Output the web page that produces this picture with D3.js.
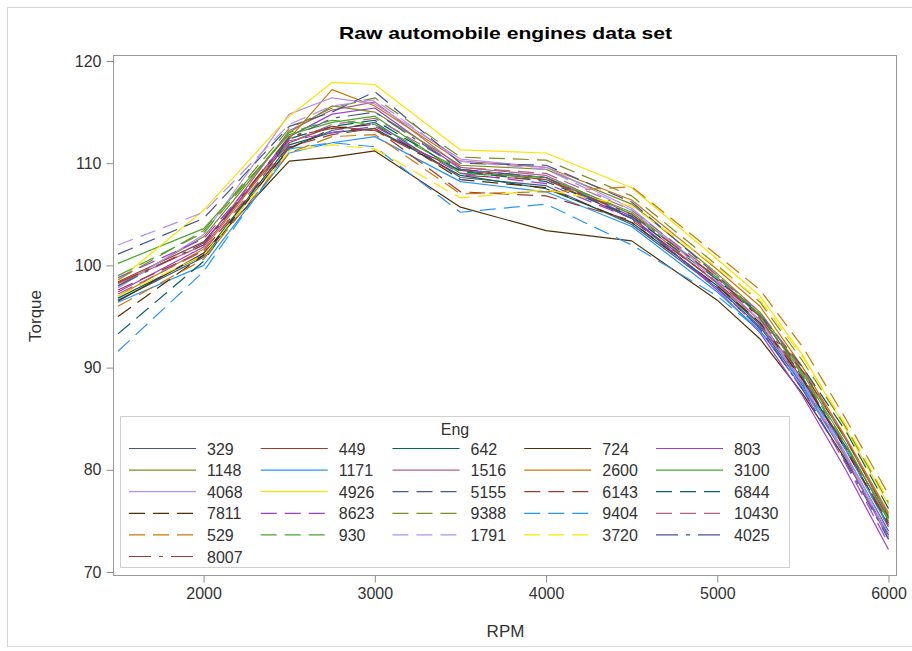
<!DOCTYPE html>
<html>
<head>
<meta charset="utf-8">
<script src="https://cdn.jsdelivr.net/npm/d3@7"></script>
<style>
  html, body { margin: 0; padding: 0; background: #fff; }
  svg { display: block; }
  text { font-family: "Liberation Sans", Arial, sans-serif; fill: #333; }
</style>
</head>
<body>
<svg id="chart" width="912" height="651"></svg>
<script>
// Engine speed at which torque was recorded
const rpm = [1500, 2000, 2500, 2750, 3000, 3500, 4000, 4500, 5000, 5250, 5500, 5750, 6000];

// Engine identifiers, in legend order
const engines = ["329", "449", "642", "724", "803", "1148", "1171", "1516", "2600", "3100",
  "4068", "4926", "5155", "6143", "6844", "7811", "8623", "9388", "9404", "10430",
  "529", "930", "1791", "3720", "4025", "8007"];

// Torque readings for each engine, one value per rpm step
const t329   = [96.6, 100.8, 111.5, 113.2, 114.0, 108.6, 107.8, 104.0, 97.8, 94.0, 88.2, 81.5, 74.0];
const t449   = [98.4, 102.3, 112.0, 113.6, 113.2, 109.3, 108.4, 104.6, 98.3, 94.6, 88.8, 82.0, 74.6];
const t642   = [96.8, 101.0, 111.8, 113.0, 113.4, 108.8, 107.5, 104.2, 98.0, 94.2, 88.6, 82.3, 75.3];
const t724   = [96.5, 101.2, 110.2, 110.6, 111.2, 105.7, 103.4, 102.4, 96.6, 92.8, 87.4, 81.0, 73.6];
const t803   = [97.4, 101.8, 112.6, 114.8, 115.4, 109.4, 108.6, 104.8, 97.6, 93.4, 87.2, 80.0, 72.2];
const t1148  = [98.0, 102.8, 113.0, 115.6, 115.0, 109.8, 109.4, 106.0, 99.2, 95.4, 89.6, 83.0, 75.6];
const t1171  = [96.4, 100.0, 111.0, 112.0, 112.6, 108.2, 107.2, 103.8, 97.4, 93.6, 88.0, 81.3, 73.4];
const t1516  = [98.2, 102.0, 113.2, 115.2, 116.0, 109.6, 108.8, 105.0, 98.2, 94.3, 88.4, 81.2, 73.2];
const t2600  = [97.0, 101.6, 112.4, 117.2, 115.6, 110.2, 109.6, 106.4, 99.6, 96.0, 90.0, 83.2, 75.8];
const t3100  = [100.2, 103.6, 112.8, 114.0, 114.6, 109.0, 108.6, 105.2, 98.8, 95.0, 89.4, 82.6, 75.0];
const t4068  = [97.8, 103.0, 114.8, 116.4, 115.8, 110.4, 109.6, 105.6, 98.6, 94.6, 88.6, 81.6, 73.8];
const t4926  = [98.5, 105.4, 114.6, 117.9, 117.7, 111.3, 111.0, 107.6, 100.6, 97.0, 91.2, 84.0, 76.6];
const t5155  = [101.1, 104.6, 113.6, 115.0, 117.0, 110.0, 109.8, 106.2, 99.0, 95.2, 89.0, 82.0, 74.4];
const t6143  = [97.6, 101.4, 111.6, 112.8, 113.4, 107.2, 106.8, 104.4, 98.4, 95.0, 89.6, 83.0, 75.4];
const t6844  = [93.3, 100.4, 112.4, 113.6, 114.2, 109.2, 108.2, 104.8, 98.6, 95.2, 90.0, 83.8, 76.2];
const t7811  = [95.0, 101.0, 111.4, 113.4, 113.8, 108.4, 107.6, 104.2, 98.0, 94.4, 88.8, 82.0, 74.8];
const t8623  = [98.8, 102.6, 112.2, 113.0, 113.6, 109.0, 108.0, 104.6, 97.8, 93.8, 87.8, 80.6, 72.8];
const t9388  = [98.6, 103.4, 113.4, 115.4, 116.4, 110.6, 110.3, 106.8, 100.0, 96.4, 90.6, 84.2, 76.8];
const t9404  = [91.6, 99.4, 111.4, 112.0, 111.6, 105.2, 106.0, 102.0, 97.0, 93.6, 88.4, 82.0, 74.4];
const t10430 = [97.2, 101.4, 112.0, 113.8, 114.4, 109.6, 109.0, 105.4, 99.0, 95.4, 89.8, 83.0, 75.4];
const t529   = [96.0, 100.6, 111.0, 112.6, 112.8, 107.0, 107.2, 107.7, 101.0, 97.6, 92.0, 85.0, 77.6];
const t930   = [99.0, 103.2, 113.0, 114.2, 113.8, 109.4, 108.6, 105.0, 98.8, 95.2, 89.2, 82.4, 75.2];
const t1791  = [102.0, 105.2, 113.8, 115.6, 116.2, 110.2, 109.4, 105.4, 98.4, 94.6, 88.4, 81.4, 73.4];
const t3720  = [97.0, 101.0, 111.2, 111.8, 111.4, 106.6, 107.4, 105.8, 99.8, 96.6, 91.0, 84.4, 77.0];
const t4025  = [98.0, 102.2, 112.4, 114.4, 115.0, 109.4, 108.6, 104.6, 97.8, 93.8, 87.8, 80.8, 73.2];
const t8007  = [98.3, 102.0, 112.6, 113.4, 113.2, 108.8, 108.4, 105.0, 98.8, 94.8, 89.0, 82.2, 74.8];

const torque = [t329, t449, t642, t724, t803, t1148, t1171, t1516, t2600, t3100,
  t4068, t4926, t5155, t6143, t6844, t7811, t8623, t9388, t9404, t10430,
  t529, t930, t1791, t3720, t4025, t8007];

// Axis ticks
const xTicks = [2000, 3000, 4000, 5000, 6000];
const yTicks = [70, 80, 90, 100, 110, 120];

// Line colour cycle and line-pattern cycle (12 colours per pattern)
const palette = ["#445694", "#A23A2E", "#01665E", "#543005", "#9D3CDB", "#7F8E1F",
  "#2597FA", "#B26084", "#D17800", "#47A82A", "#B38EF3", "#F9E500"];
const patterns = [null, "16 8", "22 8 4 8"];

const svg = d3.select("#chart");

// Outer graph border
svg.append("rect")
  .attr("x", 7.5).attr("y", 7.5).attr("width", 920).attr("height", 639)
  .attr("fill", "none").attr("stroke", "#d6d6d6");

const frame = { left: 113.5, top: 55.5, right: 896.5, bottom: 575.5 };

const x = d3.scaleLinear().domain([1500, 6000]).range([118, 888.5]);
const y = d3.scaleLinear().domain([70, 120]).range([572, 61]);

// Title
svg.append("text")
  .attr("x", 505.5).attr("y", 39)
  .attr("text-anchor", "middle")
  .attr("textLength", 333).attr("lengthAdjust", "spacingAndGlyphs")
  .style("font-size", "17px").style("font-weight", "bold").style("fill", "#000")
  .text("Raw automobile engines data set");

// Clip for the data area
svg.append("clipPath").attr("id", "plotClip")
  .append("rect")
  .attr("x", frame.left).attr("y", frame.top)
  .attr("width", frame.right - frame.left).attr("height", frame.bottom - frame.top);

// Axes
const xAxis = d3.axisBottom(x).tickValues(xTicks).tickSize(7).tickPadding(5).tickFormat(d3.format("d"));
const yAxis = d3.axisLeft(y).tickValues(yTicks).tickSize(7).tickPadding(5).tickFormat(d3.format("d"));

const gx = svg.append("g").attr("transform", `translate(0,${frame.bottom})`).call(xAxis);
const gy = svg.append("g").attr("transform", `translate(${frame.left},0)`).call(yAxis);
[gx, gy].forEach(g => {
  g.select(".domain").remove();
  g.selectAll(".tick line").attr("stroke", "#8a8a8a");
  g.selectAll(".tick text")
    .style("font-size", "16px").style("fill", "#333")
    .style("font-family", "'Liberation Sans', Arial, sans-serif");
});

// Axis labels
svg.append("text")
  .attr("x", 505.5).attr("y", 637)
  .attr("text-anchor", "middle")
  .style("font-size", "17px")
  .text("RPM");
svg.append("text")
  .attr("transform", "translate(41,316) rotate(-90)")
  .attr("text-anchor", "middle")
  .style("font-size", "17px")
  .text("Torque");

// Engine curves
const line = d3.line()
  .x((d, i) => x(rpm[i]))
  .y(d => y(d));

const series = engines.map((name, k) => ({
  name,
  values: torque[k],
  color: palette[k % 12],
  dash: patterns[Math.floor(k / 12)]
}));

svg.append("g").attr("clip-path", "url(#plotClip)")
  .selectAll("path")
  .data(series)
  .join("path")
  .attr("d", d => line(d.values))
  .attr("fill", "none")
  .attr("stroke", d => d.color)
  .attr("stroke-width", 1.2)
  .attr("stroke-linejoin", "round")
  .attr("stroke-dasharray", d => d.dash);

// Plot frame
svg.append("rect")
  .attr("x", frame.left).attr("y", frame.top)
  .attr("width", frame.right - frame.left).attr("height", frame.bottom - frame.top)
  .attr("fill", "none").attr("stroke", "#9a9a9a");

// Legend
const legend = svg.append("g");
legend.append("rect")
  .attr("x", 120.5).attr("y", 416.5).attr("width", 669).attr("height", 151)
  .attr("fill", "#fff").attr("stroke", "#cfcfcf");
legend.append("text")
  .attr("x", 455).attr("y", 435)
  .attr("text-anchor", "middle")
  .style("font-size", "16px")
  .text("Eng");

const colX = d3.scaleLinear().domain([0, 4]).range([129, 656]);
const rowY = d3.scaleLinear().domain([0, 5]).range([448.5, 556.5]);

const items = legend.selectAll("g.item")
  .data(series)
  .join("g")
  .attr("class", "item")
  .attr("transform", (d, i) => `translate(${colX(i % 5)},${rowY(Math.floor(i / 5))})`);

items.append("line")
  .attr("x1", 0).attr("x2", 67).attr("y1", 0).attr("y2", 0)
  .attr("stroke", d => d.color)
  .attr("stroke-width", 1.2)
  .attr("stroke-dasharray", d => d.dash);

items.append("text")
  .attr("x", 78).attr("y", 6)
  .style("font-size", "16px")
  .text(d => d.name);
</script>
</body>
</html>
